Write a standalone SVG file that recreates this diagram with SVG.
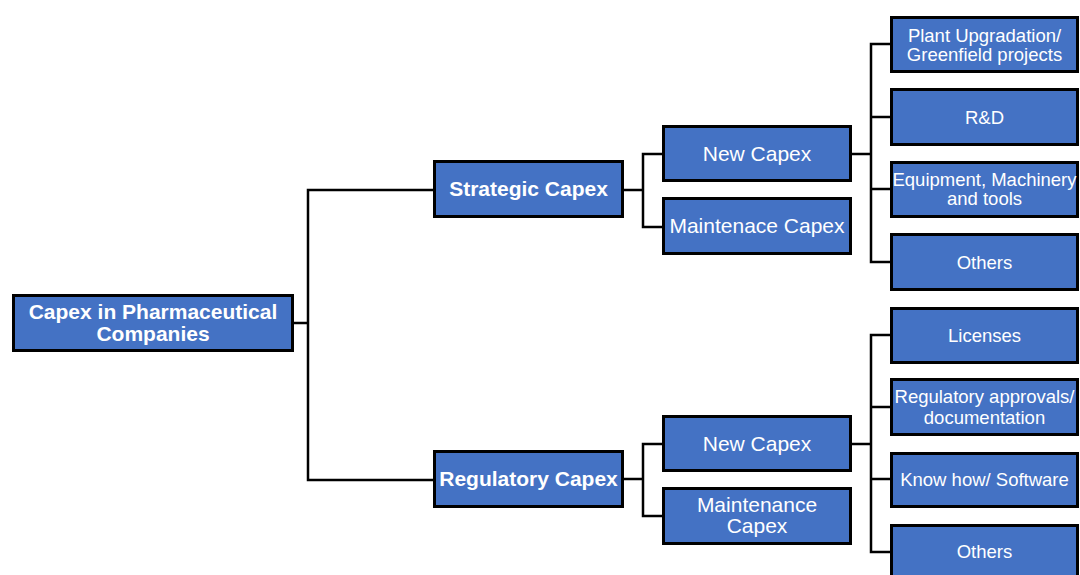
<svg xmlns="http://www.w3.org/2000/svg" width="1080" height="575" viewBox="0 0 1080 575">
<style>
.box{fill:#4472C4;stroke:#000;stroke-width:3}
.t{fill:#fff;font-family:"Liberation Sans",Arial,sans-serif;text-anchor:middle}
.b{font-weight:bold;font-size:21px}
.m{font-size:21px}
.l{font-size:18.5px}
.c{fill:none;stroke:#000;stroke-width:2.5}
</style>
<rect width="1080" height="575" fill="#fff"/>
<g id="connectors">
<path class="c" d="M294,323 H308 M433,190 H308 V480 H433"/>
<path class="c" d="M624,190 H643 M662,154 H643 V227 H662"/>
<path class="c" d="M624,479 H643 M662,444 H643 V516 H662"/>
<path class="c" d="M852,154 H871 M890,44 H871 V262 H890 M871,117 H890 M871,189 H890"/>
<path class="c" d="M852,444 H871 M890,335 H871 V552 H890 M871,407 H890 M871,479 H890"/>
</g>
<g id="root"><rect class="box" x="13.5" y="295.5" width="279" height="55"/><text class="t b" x="153" y="319">Capex in Pharmaceutical</text><text class="t b" x="153" y="341">Companies</text></g>
<g id="strategic"><rect class="box" x="434.5" y="161.5" width="188" height="55"/><text class="t b" x="528.5" y="196">Strategic Capex</text></g>
<g id="regulatory"><rect class="box" x="434.5" y="451.5" width="188" height="55"/><text class="t b" x="528.5" y="486">Regulatory Capex</text></g>
<g id="s-new"><rect class="box" x="663.5" y="126.5" width="187" height="54"/><text class="t m" x="757" y="161">New Capex</text></g>
<g id="s-maint"><rect class="box" x="663.5" y="198.5" width="187" height="55"/><text class="t m" x="757" y="233">Maintenace Capex</text></g>
<g id="r-new"><rect class="box" x="663.5" y="416.5" width="187" height="54"/><text class="t m" x="757" y="451">New Capex</text></g>
<g id="r-maint"><rect class="box" x="663.5" y="488.5" width="187" height="55"/><text class="t m" x="757" y="512">Maintenance</text><text class="t m" x="757" y="533">Capex</text></g>
<g id="s-plant"><rect class="box" x="891.5" y="17.5" width="186" height="54"/><text class="t l" x="984.5" y="41.5">Plant Upgradation/</text><text class="t l" x="984.5" y="60.5">Greenfield projects</text></g>
<g id="s-rd"><rect class="box" x="891.5" y="89.5" width="186" height="55"/><text class="t l" x="984.5" y="123.5">R&amp;D</text></g>
<g id="s-equip"><rect class="box" x="891.5" y="162.5" width="186" height="54"/><text class="t l" x="984.5" y="186">Equipment, Machinery</text><text class="t l" x="984.5" y="205">and tools</text></g>
<g id="s-others"><rect class="box" x="891.5" y="234.5" width="186" height="55"/><text class="t l" x="984.5" y="268.5">Others</text></g>
<g id="r-lic"><rect class="box" x="891.5" y="308.5" width="186" height="54"/><text class="t l" x="984.5" y="342">Licenses</text></g>
<g id="r-reg"><rect class="box" x="891.5" y="379.5" width="186" height="55"/><text class="t l" x="984.5" y="403">Regulatory approvals/</text><text class="t l" x="984.5" y="423.5">documentation</text></g>
<g id="r-know"><rect class="box" x="891.5" y="453.5" width="186" height="53"/><text class="t l" x="984.5" y="485.5">Know how/ Software</text></g>
<g id="r-others"><rect class="box" x="891.5" y="525.5" width="186" height="56"/><text class="t l" x="984.5" y="558">Others</text></g>
</svg>
